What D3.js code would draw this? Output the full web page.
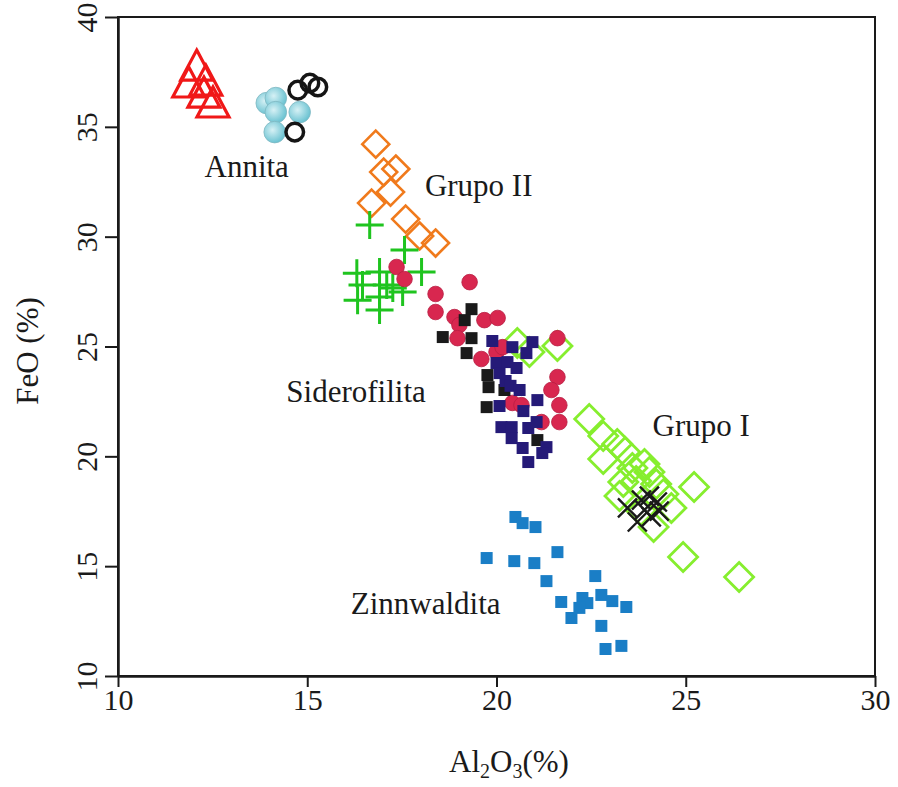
<!DOCTYPE html>
<html><head><meta charset="utf-8">
<script src="https://cdn.jsdelivr.net/npm/d3@7"></script>
<style>
html,body{margin:0;padding:0;background:#fff;}
text{font-family:"Liberation Serif","DejaVu Serif",serif;fill:#1a1a1a;}
</style></head>
<body><svg id="c" width="898" height="787"></svg>
<script>
// ---- data (Al2O3 %, FeO %) ----
const xTicks = [10, 15, 20, 25, 30];
const yTicks = [10, 15, 20, 25, 30, 35, 40];

const annitaTriangles = [[12.08,37.81],[11.87,37.04],[12.32,37.13],[12.27,36.58],[12.51,36.13]];
const annitaCyan = [[13.93,36.08],[14.17,36.31],[14.17,35.67],[14.80,35.67],[14.14,34.76]];
const annitaOpen = [[14.75,36.67],[15.07,36.99],[15.28,36.81],[14.67,34.76]];
const grupoII = [[16.81,34.21],[17.02,32.94],[17.34,33.08],[17.20,32.03],[16.70,31.53],[17.60,30.80],[17.97,30.03],[18.39,29.71]];
const greenPlus = [[16.65,30.53],[17.57,29.39],[16.31,28.34],[16.91,28.39],[18.02,28.39],[16.46,27.80],[17.10,27.80],[16.33,27.11],[16.91,27.25],[17.26,27.66],[16.91,26.66],[17.52,27.48]];
const crimson = [[17.36,28.62],[17.57,28.07],[19.29,27.93],[18.39,27.39],[18.39,26.57],[18.89,26.34],[19.02,25.98],[19.68,26.20],[20.03,26.30],[18.97,25.38],[19.60,24.43],[20.00,24.75],[20.16,24.97],[21.61,25.38],[21.61,23.61],[21.45,23.02],[21.66,22.33],[21.66,21.56],[20.42,22.43],[20.66,22.33],[21.19,21.56]];
const blackSquares = [[19.34,26.70],[19.16,26.20],[18.58,25.43],[19.34,25.38],[19.21,24.70],[19.76,23.70],[19.79,23.15],[20.21,23.02],[19.74,22.24],[21.08,20.74]];
const navySquares = [[19.89,25.25],[20.42,24.97],[20.79,24.70],[20.95,25.20],[20.00,24.25],[20.29,24.29],[20.53,24.02],[20.08,23.79],[20.24,23.43],[20.37,23.21],[20.61,23.02],[21.08,22.56],[20.71,22.06],[20.08,22.29],[20.13,21.33],[20.40,21.33],[20.84,21.29],[21.06,21.56],[20.40,20.83],[20.69,20.38],[21.32,20.42],[21.21,20.15],[20.84,19.74]];
const grupoI = [[20.55,25.16],[20.87,24.75],[21.61,25.02],[22.45,21.70],[22.82,20.92],[23.19,20.56],[22.82,19.88],[23.40,20.20],[23.59,19.47],[23.91,19.65],[24.04,19.29],[23.35,18.83],[23.25,18.19],[23.69,18.88],[24.22,18.74],[24.41,18.28],[24.62,17.65],[25.22,18.60],[23.83,17.51],[24.15,16.78],[24.93,15.42],[26.41,14.51]];
const blackX = [[23.46,17.65],[23.83,18.01],[24.04,18.19],[24.25,17.92],[23.72,17.01],[24.09,17.24],[24.30,17.51],[23.91,17.56]];
const zinnwaldita = [[20.50,17.24],[20.69,16.96],[21.03,16.78],[19.74,15.37],[20.47,15.23],[21.00,15.14],[21.61,15.64],[21.32,14.32],[21.71,13.37],[22.27,13.55],[22.40,13.32],[22.19,13.10],[21.98,12.64],[22.61,14.55],[22.77,13.69],[23.06,13.41],[23.43,13.14],[22.77,12.28],[22.88,11.23],[23.30,11.37]];
const labels = [
  {t:"Annita", x:13.4, y:32.71},
  {t:"Grupo II", x:19.53, y:31.85},
  {t:"Siderofilita", x:16.29, y:22.47},
  {t:"Grupo I", x:25.41, y:20.92},
  {t:"Zinnwaldita", x:18.13, y:12.82}
];

// ---- layout ----
const svg = d3.select("#c");
const m = {l:118, r:875, t:17, b:676};
const x = d3.scaleLinear().domain([10,30]).range([m.l, m.r]);
const y = d3.scaleLinear().domain([10,40]).range([m.b, m.t]);

const defs = svg.append("defs");
const g = defs.append("radialGradient").attr("id","cy").attr("cx","40%").attr("cy","40%").attr("r","60%");
g.append("stop").attr("offset","0%").attr("stop-color","#d6f1f5");
g.append("stop").attr("offset","100%").attr("stop-color","#6cc3d2");

// frame
svg.append("rect").attr("x",m.l).attr("y",m.t).attr("width",m.r-m.l).attr("height",m.b-m.t)
  .attr("fill","none").attr("stroke","#1a1a1a").attr("stroke-width",2);

// axes
const xa = svg.append("g").attr("transform",`translate(0,${m.b})`)
  .call(d3.axisBottom(x).tickValues(xTicks).tickSize(11).tickSizeOuter(0).tickFormat(d3.format("d")));
const ya = svg.append("g").attr("transform",`translate(${m.l},0)`)
  .call(d3.axisLeft(y).tickValues(yTicks).tickSize(13).tickSizeOuter(0).tickFormat(d3.format("d")));
[xa,ya].forEach(a=>{
  a.select(".domain").attr("stroke","#1a1a1a").attr("stroke-width",2.5);
  a.selectAll(".tick line").attr("stroke","#1a1a1a").attr("stroke-width",2);
  a.selectAll(".tick text").attr("font-family","Liberation Serif").attr("font-size",30).attr("fill","#1a1a1a");
});
xa.selectAll(".tick text").attr("y",13).attr("dy","0.71em");
ya.selectAll(".tick text").attr("x",0).attr("dy",0).attr("text-anchor","middle")
  .attr("transform","translate(-21,0) rotate(-90)");

// axis titles
svg.append("text").attr("transform",`translate(38,351) rotate(-90)`)
  .attr("text-anchor","middle").attr("font-size",31).text("FeO (%)");
const xt = svg.append("text").attr("x",509).attr("y",772).attr("text-anchor","middle").attr("font-size",31);
xt.append("tspan").text("Al");
xt.append("tspan").attr("font-size",20).attr("dy",6).text("2");
xt.append("tspan").attr("dy",-6).text("O");
xt.append("tspan").attr("font-size",20).attr("dy",6).text("3");
xt.append("tspan").attr("dy",-6).text("(%)");

const plot = svg.append("g");
const pos = d => `translate(${x(d[0])},${y(d[1])})`;

// orange diamonds (Grupo II)
const dia = s => `M0,${-s}L${s},0L0,${s}L${-s},0Z`;
plot.selectAll(".o").data(grupoII).join("path").attr("transform",pos).attr("d",dia(13.5))
  .attr("fill","none").attr("stroke","#f07a1c").attr("stroke-width",2.6);
// green plus
const plus = s => `M${-s},0H${s}M0,${-s}V${s}`;
plot.selectAll(".p").data(greenPlus).join("path").attr("transform",pos).attr("d",plus(14))
  .attr("fill","none").attr("stroke","#1fc41f").attr("stroke-width",3);
// lime diamonds (Grupo I)
plot.selectAll(".l").data(grupoI).join("path").attr("transform",pos).attr("d",dia(14.5))
  .attr("fill","none").attr("stroke","#86ee2e").attr("stroke-width",2.8);
// crimson circles
plot.selectAll(".c").data(crimson).join("circle").attr("transform",pos).attr("r",7.8)
  .attr("fill","#d8274f").attr("stroke","#b81e42").attr("stroke-width",0.8);
// black squares
const sq = s => `M${-s},${-s}H${s}V${s}H${-s}Z`;
plot.selectAll(".b").data(blackSquares).join("path").attr("transform",pos).attr("d",sq(6))
  .attr("fill","#1a1a1a");
// navy squares
plot.selectAll(".n").data(navySquares).join("path").attr("transform",pos).attr("d",sq(6))
  .attr("fill","#251a78");
// blue squares (Zinnwaldita)
plot.selectAll(".z").data(zinnwaldita).join("path").attr("transform",pos).attr("d",sq(6))
  .attr("fill","#1a7ec6");
// black X
const cross = s => `M${-s},${-s}L${s},${s}M${s},${-s}L${-s},${s}`;
plot.selectAll(".x").data(blackX).join("path").attr("transform",pos).attr("d",cross(9.5))
  .attr("fill","none").attr("stroke","#1a1a1a").attr("stroke-width",2.4);
// red triangles
const tri = (w,h) => `M0,${-h/2}L${w/2},${h/2}L${-w/2},${h/2}Z`;
plot.selectAll(".t").data(annitaTriangles).join("path").attr("transform",pos).attr("d",tri(32,30))
  .attr("fill","none").attr("stroke","#f01818").attr("stroke-width",3.2).attr("stroke-linejoin","miter");
// cyan circles
plot.selectAll(".cy").data(annitaCyan).join("circle").attr("transform",pos).attr("r",10.8)
  .attr("fill","url(#cy)").attr("stroke","#7fb8c2").attr("stroke-width",0.8);
// black open circles
plot.selectAll(".bo").data(annitaOpen).join("circle").attr("transform",pos).attr("r",8.8)
  .attr("fill","none").attr("stroke","#151515").attr("stroke-width",3.5);

// labels
svg.selectAll(".lab").data(labels).join("text").attr("x",d=>x(d.x)).attr("y",d=>y(d.y))
  .attr("text-anchor","middle").attr("font-size",31).text(d=>d.t);
</script></body></html>
